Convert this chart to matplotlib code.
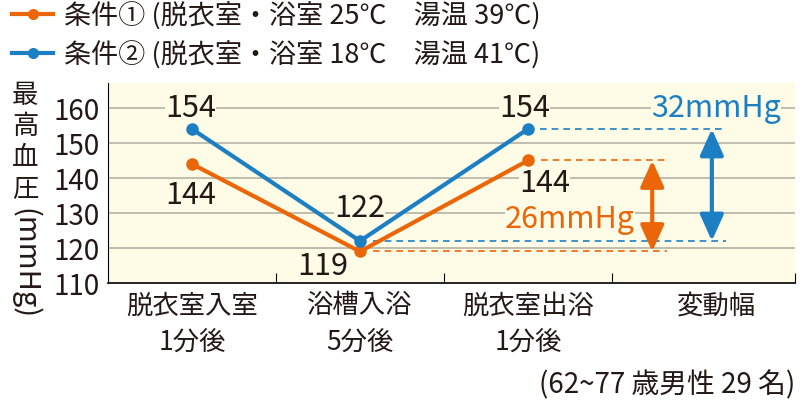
import matplotlib.pyplot as plt
from matplotlib.lines import Line2D

plt.rcParams['font.family'] = ['Noto Sans CJK JP', 'DejaVu Sans']

# data
categories = ['脱衣室入室\n1分後', '浴槽入浴\n5分後', '脱衣室出浴\n1分後', '変動幅']
cond1 = [144, 119, 145]   # 条件①
cond2 = [154, 122, 154]   # 条件②
cond1_text = ['144', '119', '144']
cond2_text = ['154', '122', '154']
legend_labels = ['条件① (脱衣室・浴室 25℃　湯温 39℃)',
                 '条件② (脱衣室・浴室 18℃　湯温 41℃)']
yticks = [110, 120, 130, 140, 150, 160]

orange = '#EB6608'
blue = '#1C7FC4'
bg = '#FEFCE6'
grid = '#B5B2A5'
ink = '#231815'

fig = plt.figure(figsize=(8, 4.02), dpi=100)
ax = fig.add_axes([108 / 800, 1 - 284 / 402, 687 / 800, 200 / 402])
ax.set_facecolor(bg)
ax.set_xlim(-0.5, 3.59)
ax.set_ylim(110, 110 + 200 / 3.5)

for y in yticks[1:]:
    ax.axhline(y, color=grid, lw=1.2, zorder=1)

x = range(len(cond1))
ax.plot(x, cond1, color=orange, lw=3, marker='o', ms=8, zorder=3, solid_capstyle='round')
ax.plot(x, cond2, color=blue, lw=3, marker='o', ms=8, zorder=3, solid_capstyle='round')

# dashed reference lines for the change range
dash = (0, (4, 3))
ax.plot([2.08, 2.83], [cond1[2]] * 2, color=orange, lw=1.2, ls=dash, zorder=2)
ax.plot([1.08, 2.83], [cond1[1]] * 2, color=orange, lw=1.2, ls=dash, zorder=2)
ax.plot([2.07, 3.18], [cond2[2]] * 2, color=blue, lw=1.2, ls=dash, zorder=2)
ax.plot([1.08, 3.18], [cond2[1]] * 2, color=blue, lw=1.2, ls=dash, zorder=2)

arrow = '<|-|>,head_length=0.8,head_width=0.36'
ax.annotate('', xy=(2.74, cond1[1]), xytext=(2.74, cond1[2]),
            arrowprops=dict(arrowstyle=arrow, color=orange, lw=3,
                            shrinkA=0, shrinkB=0, mutation_scale=20), zorder=4)
ax.annotate('', xy=(3.095, cond2[1]), xytext=(3.095, cond2[2]),
            arrowprops=dict(arrowstyle=arrow, color=blue, lw=3,
                            shrinkA=0, shrinkB=0, mutation_scale=20), zorder=4)

box = dict(facecolor=bg, edgecolor='none', pad=0)
fs = 22
kw = dict(ha='center', va='center', fontsize=fs, zorder=2.5)
ax.text(-0.01, 160.2, cond2_text[0], color=ink, bbox=box, **kw)
ax.text(-0.01, 135.2, cond1_text[0], color=ink, **kw)
ax.text(1.0, 131.5, cond2_text[1], color=ink, bbox=box, **kw)
ax.text(0.78, 115.0, cond1_text[1], color=ink, **kw)
ax.text(1.98, 160.2, cond2_text[2], color=ink, bbox=box, **kw)
ax.text(2.10, 138.6, cond1_text[2], color=ink, bbox=box, **kw)
ax.text(3.12, 160.2, f'{cond2[2] - cond2[1]}mmHg', color=blue, bbox=box, **kw)
ax.text(2.25, 128.5, f'{cond1[2] - cond1[1]}mmHg', color=orange, bbox=box, **kw)

# axes
for s in ['top', 'right']:
    ax.spines[s].set_visible(False)
ax.spines['left'].set_linewidth(0.8)
ax.spines['bottom'].set_linewidth(1.2)
ax.set_yticks(yticks)
ax.set_yticklabels([str(v) for v in yticks], fontsize=20, color=ink)
ax.tick_params(axis='y', length=0, pad=6)
ax.set_xticks([0, 1, 2, 3.12])
ax.set_xticklabels(categories, fontsize=19, color=ink, linespacing=1.45)
ax.set_xticks([0.5, 1.5, 2.5, 3.59], minor=True)
ax.tick_params(axis='x', which='major', length=0, pad=6)
ax.tick_params(axis='x', which='minor', direction='in', length=7, width=0.8)

# y label: upright kanji, rotated unit
fig.text(25 / 800, 1 - 142 / 402, '\n'.join('最高血圧'), ha='center', va='center',
         fontsize=19, color=ink, linespacing=1.2)
fig.text(25 / 800, 1 - 264 / 402, '(mmHg)', ha='center', va='center',
         fontsize=21, color=ink, rotation=-90)

fig.text(795 / 800, 1 - 385 / 402, '(62~77 歳男性 29 名)', ha='right', va='center',
         fontsize=20, color=ink)

handles = [Line2D([], [], color=orange, lw=3, marker='o', ms=7),
           Line2D([], [], color=blue, lw=3, marker='o', ms=7)]
fig.legend(handles, legend_labels, loc='upper left', bbox_to_anchor=(-0.005, 1.035),
           frameon=False, fontsize=19.5, handlelength=1.5, handletextpad=0.4,
           labelspacing=0.4, borderaxespad=0.2, labelcolor=ink)

fig.savefig('out.png', dpi=100)
